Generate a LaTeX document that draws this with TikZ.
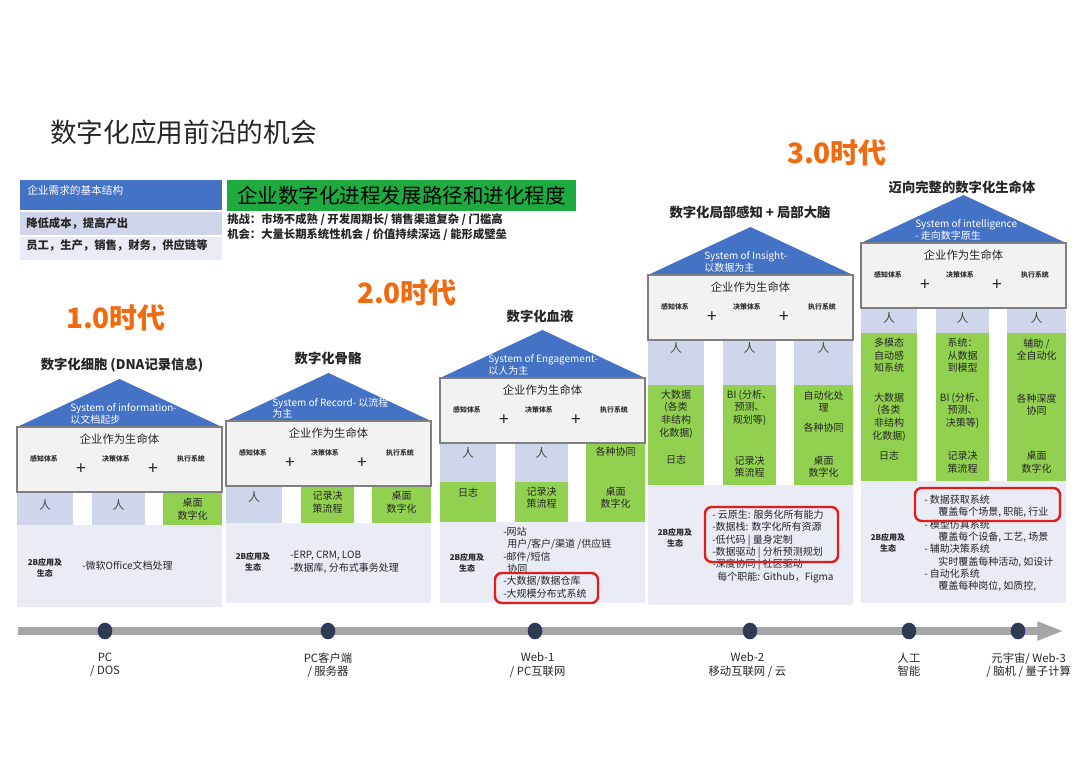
\documentclass[tikz,border=0pt]{standalone}
\usepackage{fontspec}
\setmainfont{Noto Sans CJK SC}
\usepackage{tikz}
\usetikzlibrary{arrows.meta,positioning,shapes.geometric}
\definecolor{roofblue}{HTML}{4472C4}
\definecolor{boxgray}{HTML}{F2F2F2}
\definecolor{boxline}{HTML}{7F7F7F}
\definecolor{lav}{HTML}{CFD5EA}
\definecolor{leaf}{HTML}{92D050}
\definecolor{panel}{HTML}{E9EBF5}
\definecolor{banner}{HTML}{1DAA3F}
\definecolor{eraorange}{HTML}{F06A0F}
\definecolor{hired}{HTML}{E31B1B}
\definecolor{dotnavy}{HTML}{2F3B4F}
\definecolor{tlgray}{HTML}{A6A6A6}
% roof + life box of one house: name, left x, roof base y, roof text x offset, roof text
\newcommand{\househead}[5]{%
  \fill[roofblue] (#2,#3) -- (#2+102.5,#3-48) -- (#2+205,#3) -- cycle;
  \node[rooftext] (#1-roof) at (#2+#4,#3-13) {#5};
  \draw[lifebox] (#2,#3) rectangle (#2+205,#3+65);
  \node[lifetitle] (#1-life) at (#2+102.5,#3+12) {企业作为生命体};
  \node[partlabel] (#1-sense) at (#2+27,#3+32) {感知体系};
  \node[plussign] (#1-plusa) at (#2+64,#3+42) {+};
  \node[partlabel] (#1-decide) at (#2+99,#3+32) {决策体系};
  \node[plussign] (#1-plusb) at (#2+136,#3+42) {+};
  \node[partlabel] (#1-act) at (#2+174,#3+32) {执行系统};
}

\begin{document}
\begin{tikzpicture}[x=0.75pt, y=-0.75pt,
  every node/.style={inner sep=0pt, text=black!85},
  rooftext/.style={text=white, font=\fontsize{7.5}{8.6}\selectfont, align=left, anchor=west},
  lifebox/.style={draw=boxline, line width=1.5pt, fill=boxgray},
  lifetitle/.style={font=\fontsize{8.5}{10}\selectfont},
  partlabel/.style={font=\bfseries\fontsize{5.2}{6}\selectfont, text=black!80},
  plussign/.style={font=\fontsize{13}{13}\selectfont},
  pillartext/.style={font=\fontsize{7.5}{9.4}\selectfont, align=center},
  ren/.style={font=\fontsize{9}{10}\selectfont, text=black!70},
  ecohead/.style={font=\bfseries\fontsize{6}{8}\selectfont, align=center},
  listtext/.style={font=\fontsize{7.5}{9.2}\selectfont, align=left, anchor=north west},
  hilite/.style={draw=hired, line width=1.8pt, rounded corners=5pt},
  housetitle/.style={font=\bfseries\fontsize{10}{12}\selectfont},
  era/.style={font=\bfseries\fontsize{21}{24}\selectfont, text=eraorange},
  tdot/.style={ellipse, fill=dotnavy, draw=dotnavy!70!blue, line width=0.4pt,
               minimum width=10.5pt, minimum height=12pt},
  tlabel/.style={font=\fontsize{8.5}{10}\selectfont, align=center},
  timeline/.style={draw=tlgray, line width=6.5pt, -{Triangle[length=20pt,width=13pt]}}
]
\fill[white] (0,0) rectangle (1080,764);
\useasboundingbox (0,0) rectangle (1080,764);

% heading and legend
\node[font=\fontsize{20}{24}\selectfont, anchor=west] (title) at (50,132) {数字化应用前沿的机会};
\fill[roofblue] (20,180) rectangle (222,210);
\node[anchor=west, text=white, font=\fontsize{8}{10}\selectfont] (need) at (27,190) {企业需求的基本结构};
\fill[lav] (20,212) rectangle (222,235);
\node[anchor=west, font=\bfseries\fontsize{8.5}{10}\selectfont] (cost) at (26,223) {降低成本，提高产出};
\fill[panel] (20,237) rectangle (222,260);
\node[anchor=west, font=\bfseries\fontsize{8.5}{10}\selectfont] (staff) at (26,245) {员工，生产，销售，财务，供应链等};
\fill[banner] (227,180) rectangle (576,211);
\node[font=\fontsize{15.4}{18}\selectfont, text=black] (path) at (401.5,196) {企业数字化进程发展路径和进化程度};
\node[anchor=north west, align=left, font=\bfseries\fontsize{8.5}{11.2}\selectfont] (risk) at (227,213)
  {挑战：市场不成熟 / 开发周期长/ 销售渠道复杂 / 门槛高\\机会：大量长期系统性机会 / 价值持续深远 / 能形成壁垒};

% eras
\node[era] (era1) at (116,318) {1.0时代};
\node[era] (era2) at (407,293) {2.0时代};
\node[era] (era3) at (837,153) {3.0时代};

% house 1
\node[housetitle] (h1-title) at (122,365) {数字化细胞 (DNA记录信息)};
\fill[panel] (17,525) rectangle (222,607);
\fill[lav] (17,492) rectangle (73,525);
\fill[lav] (92,492) rectangle (145,525);
\fill[leaf] (163,492) rectangle (222,525);
\househead{h1}{17}{427}{53}{System of information-\\以文档起步}
\node[ren] (h1-rena) at (45,505) {人};
\node[ren] (h1-renb) at (118.5,505) {人};
\node[pillartext] (h1-desk) at (192.5,509) {桌面\\数字化};
\node[ecohead] (h1-eco) at (45,568) {2B应用及\\生态};
\node[listtext, anchor=west] (h1-list) at (82,566) {-微软Office文档处理};

% house 2
\node[housetitle] (h2-title) at (328,358) {数字化骨骼};
\fill[panel] (226,523) rectangle (431,603);
\fill[lav] (226,486) rectangle (282,523);
\fill[leaf] (301,486) rectangle (354,523);
\fill[leaf] (372,486) rectangle (431,523);
\househead{h2}{226}{421}{46}{System of Record- 以流程\\为主}
\node[ren] (h2-ren) at (254,497) {人};
\node[pillartext] (h2-record) at (327.5,502) {记录决\\策流程};
\node[pillartext] (h2-desk) at (401.5,502) {桌面\\数字化};
\node[ecohead] (h2-eco) at (253,562) {2B应用及\\生态};
\node[listtext] (h2-list) at (290,551) {-ERP, CRM, LOB\\-数据库, 分布式事务处理};

% house 3
\node[housetitle] (h3-title) at (540,316) {数字化血液};
\fill[panel] (440,522) rectangle (645,603);
\fill[lav] (440,443) rectangle (496,482);
\fill[leaf] (440,482) rectangle (496,522);
\fill[lav] (515,443) rectangle (568,482);
\fill[leaf] (515,482) rectangle (568,522);
\fill[leaf] (586,443) rectangle (645,522);
\househead{h3}{440}{378}{48}{System of Engagement-\\以人为主}
\node[ren] (h3-rena) at (468,453) {人};
\node[ren] (h3-renb) at (541.5,453) {人};
\node[pillartext] (h3-coop) at (615.5,452) {各种协同};
\node[pillartext] (h3-log) at (468,493) {日志};
\node[pillartext] (h3-record) at (541.5,497.5) {记录决\\策流程};
\node[pillartext] (h3-desk) at (615.5,497.5) {桌面\\数字化};
\node[ecohead] (h3-eco) at (467,563) {2B应用及\\生态};
\node[listtext] (h3-list) at (503,527) {-网站\\\hspace*{0.4em}用户/客户/渠道 /供应链\\-邮件/短信\\\hspace*{0.4em}协同\\-大数据/数据仓库\\-大规模分布式系统};
\draw[hilite] (495,573) rectangle (598,603);

% house 4
\node[housetitle] (h4-title) at (750,212) {数字化局部感知 + 局部大脑};
\fill[panel] (648,485) rectangle (853,605);
\fill[lav] (648,340) rectangle (704,385);
\fill[leaf] (648,385) rectangle (704,485);
\fill[lav] (723,340) rectangle (776,385);
\fill[leaf] (723,385) rectangle (776,485);
\fill[lav] (794,340) rectangle (853,385);
\fill[leaf] (794,385) rectangle (853,485);
\househead{h4}{648}{275}{56}{System of Insight-\\以数据为主}
\node[ren] (h4-rena) at (676,348) {人};
\node[ren] (h4-renb) at (749.5,348) {人};
\node[ren] (h4-renc) at (823.5,348) {人};
\node[pillartext] (h4-bigdata) at (676,414) {大数据\\(各类\\非结构\\化数据)};
\node[pillartext] (h4-log) at (676,460) {日志};
\node[pillartext] (h4-bi) at (749.5,407.5) {BI (分析、\\预测、\\规划等)};
\node[pillartext] (h4-record) at (749.5,466.5) {记录决\\策流程};
\node[pillartext] (h4-auto) at (823.5,401.5) {自动化处\\理};
\node[pillartext] (h4-coop) at (823.5,428) {各种协同};
\node[pillartext] (h4-desk) at (823.5,466.5) {桌面\\数字化};
\node[ecohead] (h4-eco) at (675,537.5) {2B应用及\\生态};
\node[listtext] (h4-list) at (712,510) {- 云原生: 服务化所有能力\\-数据栈: 数字化所有资源\\-低代码 | 量身定制\\-数据驱动 | 分析预测规划\\-深度协同 | 社区驱动\\\hspace*{0.5em}每个职能: Github，Figma};
\draw[hilite] (705,507) rectangle (838,562);

% house 5
\node[housetitle] (h5-title) at (962,187) {迈向完整的数字化生命体};
\fill[panel] (861,481) rectangle (1066,603);
\fill[lav] (861,308) rectangle (917,333);
\fill[leaf] (861,333) rectangle (917,481);
\fill[lav] (936,308) rectangle (989,333);
\fill[leaf] (936,333) rectangle (989,481);
\fill[lav] (1007,308) rectangle (1066,333);
\fill[leaf] (1007,333) rectangle (1066,481);
\househead{h5}{861}{243}{54}{System of intelligence\\- 走向数字原生}
\node[ren] (h5-rena) at (889,318) {人};
\node[ren] (h5-renb) at (962.5,318) {人};
\node[ren] (h5-renc) at (1036.5,318) {人};
\node[pillartext] (h5-sense) at (889,355.5) {多模态\\自动感\\知系统};
\node[pillartext] (h5-bigdata) at (889,417) {大数据\\(各类\\非结构\\化数据)};
\node[pillartext] (h5-log) at (889,456) {日志};
\node[pillartext] (h5-model) at (962.5,355.5) {系统：\\从数据\\到模型};
\node[pillartext] (h5-bi) at (962.5,410.5) {BI (分析、\\预测、\\决策等)};
\node[pillartext] (h5-record) at (962.5,462) {记录决\\策流程};
\node[pillartext] (h5-auto) at (1036.5,349.5) {辅助 /\\全自动化};
\node[pillartext] (h5-coop) at (1036.5,404.5) {各种深度\\协同};
\node[pillartext] (h5-desk) at (1036.5,462) {桌面\\数字化};
\node[ecohead] (h5-eco) at (888,542.5) {2B应用及\\生态};
\node[listtext] (h5-list) at (924,495) {- 数据获取系统\\\hspace*{1.4em}覆盖每个场景, 职能, 行业\\- 模型仿真系统\\\hspace*{1.4em}覆盖每个设备, 工艺, 场景\\- 辅助决策系统\\\hspace*{1.4em}实时覆盖每种活动, 如设计\\- 自动化系统\\\hspace*{1.4em}覆盖每种岗位, 如质控,};
\draw[hilite] (915,488) rectangle (1060,521);

% timeline
\coordinate (tl-start) at (18,631);
\coordinate (tl-end) at (1064,631);
\draw[timeline] (tl-start) -- (tl-end);
\node[tdot] (d-pc) at (105,631) {};
\node[tdot] (d-cs) at (328,631) {};
\node[tdot] (d-web1) at (535,631) {};
\node[tdot] (d-web2) at (750,631) {};
\node[tdot] (d-ai) at (909,631) {};
\node[tdot] (d-web3) at (1018,631) {};
\node[tlabel, below=10pt of d-pc] (l-pc) {PC\\/ DOS};
\node[tlabel, below=10pt of d-cs] (l-cs) {PC客户端\\/ 服务器};
\node[tlabel, below=10pt of d-web1, xshift=2pt] (l-web1) {Web-1\\/ PC互联网};
\node[tlabel, below=10pt of d-web2, xshift=-2pt] (l-web2) {Web-2\\移动互联网 / 云};
\node[tlabel, below=10pt of d-ai] (l-ai) {人工\\智能};
\node[tlabel, below=10pt of d-web3, xshift=8pt] (l-web3) {元宇宙/ Web-3\\/ 脑机 / 量子计算};
\end{tikzpicture}
\end{document}
